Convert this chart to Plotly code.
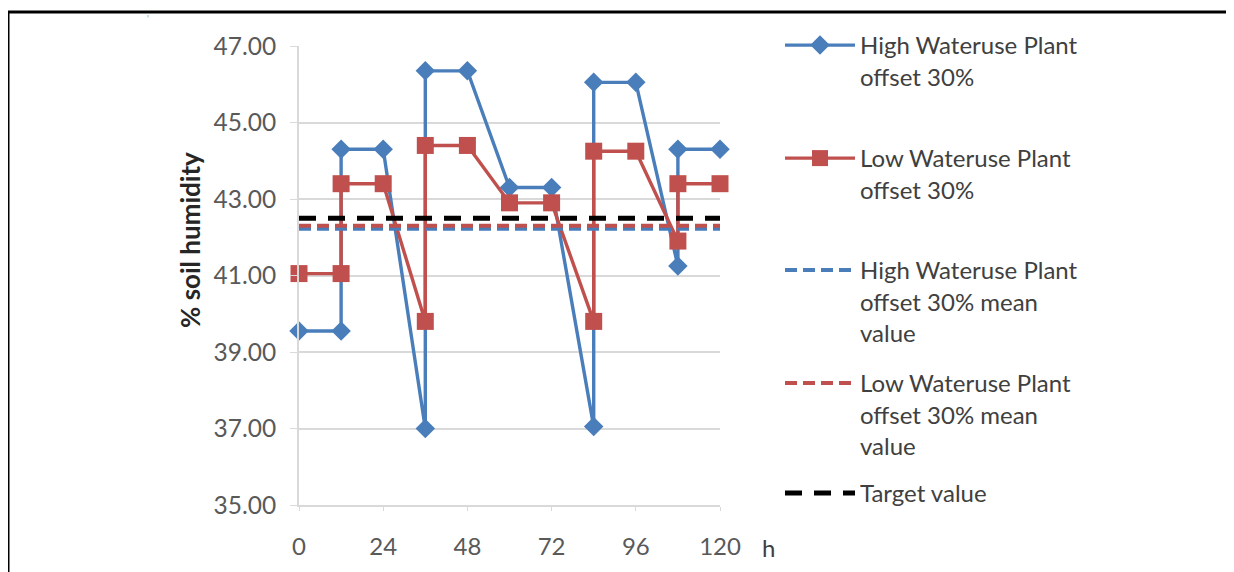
import plotly.graph_objects as go

# ---- data ----
time_h = [0, 12, 12, 24, 36, 36, 48, 60, 72, 84, 84, 96, 108, 108, 120]
high_wateruse = [39.55, 39.55, 44.3, 44.3, 37.0, 46.35, 46.35, 43.3, 43.3, 37.05, 46.05, 46.05, 41.25, 44.3, 44.3]
low_wateruse = [41.05, 41.05, 43.4, 43.4, 39.8, 44.4, 44.4, 42.9, 42.9, 39.8, 44.25, 44.25, 41.9, 43.4, 43.4]
mean_span = [0, 120]
high_mean = 42.22
low_mean = 42.30
target_value = 42.5
y_ticks = [35, 37, 39, 41, 43, 45, 47]
x_ticks = [0, 24, 48, 72, 96, 120]

names = [
    "High Wateruse Plant<br>offset 30%",
    "Low Wateruse Plant<br>offset 30%",
    "High Wateruse Plant<br>offset 30% mean<br>value",
    "Low Wateruse Plant<br>offset 30% mean<br>value",
    "Target value",
]

BLUE = "#4a7ebb"
RED = "#c0504d"
FONT = "Lato"

# page offset (body margin) and plot area in screenshot pixels
OFF = 8
L, R, T, B = 299, 720, 46, 505
W, H = 1234 - OFF, 572 - OFF
pw, ph = R - L, B - T


def px_x(x):
    return (x - L) / pw


def px_y(y):
    return (B - y) / ph


fig = go.Figure()
fig.add_trace(go.Scatter(x=time_h, y=high_wateruse, name=names[0], mode="lines+markers",
                         line=dict(color=BLUE, width=3.4),
                         marker=dict(symbol="diamond", size=15, color=BLUE),
                         cliponaxis=False, legend="legend"))
fig.add_trace(go.Scatter(x=time_h, y=low_wateruse, name=names[1], mode="lines+markers",
                         line=dict(color=RED, width=3.4),
                         marker=dict(symbol="square", size=17, color=RED),
                         cliponaxis=False, legend="legend2"))
fig.add_trace(go.Scatter(x=mean_span, y=[high_mean] * 2, name=names[2], mode="lines",
                         line=dict(color=BLUE, width=4, dash="12px,6px"),
                         cliponaxis=False, legend="legend3"))
fig.add_trace(go.Scatter(x=mean_span, y=[low_mean] * 2, name=names[3], mode="lines",
                         line=dict(color=RED, width=4, dash="12px,6px"),
                         cliponaxis=False, legend="legend4"))
fig.add_trace(go.Scatter(x=mean_span, y=[target_value] * 2, name=names[4], mode="lines",
                         line=dict(color="black", width=5, dash="17px,12px"),
                         cliponaxis=False, legend="legend5"))

legend_tops = [23, 136, 248, 361, 471]
leg_common = dict(xanchor="left", yanchor="top", bgcolor="rgba(0,0,0,0)",
                  font=dict(family=FONT, size=24, color="#404040"),
                  itemwidth=70, valign="top", tracegroupgap=0)
layout_legends = {}
for i, top in enumerate(legend_tops):
    key = "legend" if i == 0 else f"legend{i + 1}"
    layout_legends[key] = dict(x=px_x(780), y=px_y(top), **leg_common)

fig.update_layout(
    width=W, height=H,
    margin=dict(l=L - OFF, r=W - (R - OFF), t=T - OFF, b=H - (B - OFF), autoexpand=False),
    paper_bgcolor="white", plot_bgcolor="white",
    font=dict(family=FONT, size=24, color="#595959"),
    showlegend=True,
    **layout_legends,
)

fig.update_xaxes(range=[0, 120], tickvals=x_ticks, showgrid=False, zeroline=False,
                 showline=True, linecolor="#d9d9d9", linewidth=2,
                 ticks="outside", ticklen=4, tickcolor="#d9d9d9",
                 ticklabelstandoff=15, tickfont=dict(family=FONT, size=24, color="#595959"))
fig.update_yaxes(range=[35, 47], tickvals=y_ticks, tickformat=".2f", showgrid=True,
                 gridcolor="#d9d9d9", gridwidth=2, zeroline=False,
                 showline=True, linecolor="#d9d9d9", linewidth=2,
                 ticks="outside", ticklen=7, tickcolor="#d9d9d9",
                 ticklabelstandoff=9, tickfont=dict(family=FONT, size=24.5, color="#595959"))

# y-axis title (placed like in the reference, above the plot centre)
fig.add_annotation(text="<b>% soil humidity</b>", xref="paper", yref="paper",
                   x=px_x(190), y=px_y(240), xanchor="center", yanchor="middle",
                   textangle=-90, showarrow=False,
                   font=dict(family=FONT, size=26, color="#262626"))

# frame around the figure (as in the reference image)
fig.add_shape(type="line", xref="paper", yref="paper",
              x0=px_x(OFF), x1=px_x(1240), y0=px_y(12), y1=px_y(12),
              line=dict(color="black", width=3))
fig.add_shape(type="line", xref="paper", yref="paper",
              x0=px_x(OFF + 0.5), x1=px_x(OFF + 0.5), y0=px_y(11), y1=px_y(580),
              line=dict(color="black", width=2))

fig.add_annotation(text="h", xref="paper", yref="paper", x=px_x(768), y=px_y(547),
                   xanchor="center", yanchor="middle",
                   showarrow=False, font=dict(family=FONT, size=24, color="#404040"))
fig.add_annotation(text="'", xref="paper", yref="paper", x=px_x(148), y=px_y(18),
                   xanchor="center", yanchor="middle",
                   showarrow=False, font=dict(family=FONT, size=9, color="#999999"))

fig.write_html("out.html")
